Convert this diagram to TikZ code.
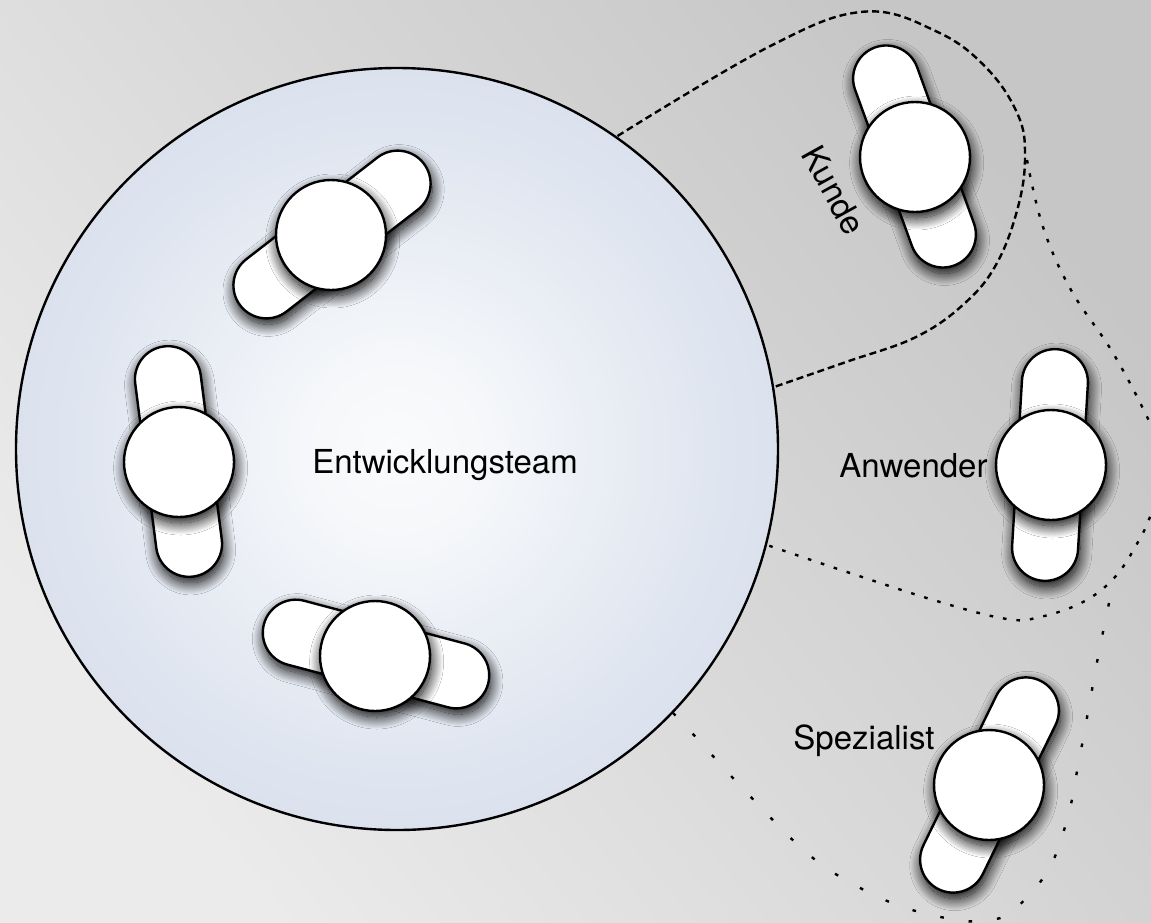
\documentclass[tikz,border=0pt]{standalone}
\usepackage{fontspec}
\setmainfont{TeX Gyre Heros}
\usetikzlibrary{shapes.misc,shadows.blur}
\definecolor{bgdark}{RGB}{198,198,198}
\definecolor{bglight}{RGB}{235,235,235}
\definecolor{teamrim}{RGB}{219,226,238}
\definecolor{teamcore}{RGB}{250,251,252}
\pgfdeclareradialshading{teamglow}{\pgfpoint{0cm}{0cm}}{
    color(0bp)=(teamcore); color(6bp)=(teamcore!85!teamrim); color(14bp)=(teamcore!45!teamrim);
    color(20bp)=(teamcore!18!teamrim); color(25bp)=(teamrim); color(50bp)=(teamrim)}
\begin{document}
\begin{tikzpicture}[x=0.5pt, y=-0.5pt,
    % Node styles
    team/.style={circle, draw=black, line width=1.2pt, shading=teamglow, minimum size=381pt, inner sep=0pt},
    softshadow/.style={blur shadow={shadow xshift=0.8pt, shadow yshift=-3pt, shadow blur radius=6pt,
                       shadow blur steps=24, shadow opacity=100}},
    body/.style={rounded rectangle, draw=black, line width=1.2pt, fill=white, minimum width=116pt, minimum height=33pt,
                 inner sep=0pt, softshadow},
    head/.style={circle, draw=black, line width=1.2pt, fill=white, minimum size=55pt, inner sep=0pt, softshadow},
    role/.style={font=\fontsize{16.5pt}{18pt}\selectfont, inner sep=0pt},
    % Line styles
    kundeline/.style={line width=1.2pt, dash pattern=on 3.5pt off 2pt},
    anwenderline/.style={line width=1.2pt, dash pattern=on 1.8pt off 5pt},
    spezialline/.style={line width=1.2pt, dash pattern=on 1.8pt off 12.5pt}
]

% Background
\path[use as bounding box, shade, top color=bgdark, bottom color=bglight, shading angle=-51] (0,0) rectangle (1151,922);

% Team area
\node[team] (team) at (397,449) {};

% Team members
\node[body, rotate=37.8] (dev_top_body) at (332,234.5) {};
\node[head] (dev_top_head) at (331,235) {};
\node[body, rotate=97.3] (dev_left_body) at (178.5,461.5) {};
\node[head] (dev_left_head) at (179,462) {};
\node[body, rotate=-14.9] (dev_low_body) at (376,654) {};
\node[head] (dev_low_head) at (375,656) {};

% Outer persons
\node[body, rotate=-70] (kunde_body) at (914.5,156.5) {};
\node[head] (kunde_head) at (915,157) {};
\node[body, rotate=-93.4] (anwender_body) at (1050,465) {};
\node[head] (anwender_head) at (1051,465) {};
\node[body, rotate=64] (spezialist_body) at (989.5,785) {};
\node[head] (spezialist_head) at (989,785) {};

% Boundaries
\draw[kundeline] plot[smooth, tension=0.65] coordinates {(617.5,136) (769,46.7) (863.5,11.7) (937,31.7) (986.5,68) (1018,115) (1025,157) (1018,207) (997,263) (965,303) (916,337) (846,362) (774,387)};
\draw[anwenderline] plot[smooth, tension=0.65] coordinates {(1027,160) (1043,227) (1071,290) (1113,353) (1150,423) (1168,470) (1150,517) (1138,542) (1115,577) (1083,602) (1040,617) (1007,619) (940,602) (847,572) (767,545)};
\draw[spezialline] plot[smooth, tension=0.65] coordinates {(673,713) (692,733) (748,794) (807,853) (853,884) (903,907) (957,920) (985,920) (1011,912) (1047,872) (1067,820) (1078,766) (1088,712) (1098,657) (1109,603)};

% Labels
\node[role] (team_label) at (445,465) {Entwicklungsteam};
\node[role, rotate=-61] (kunde_label) at (834,190) {Kunde};
\node[role] (anwender_label) at (913.5,466) {Anwender};
\node[role] (spezialist_label) at (864,741) {Spezialist};

\end{tikzpicture}
\end{document}
